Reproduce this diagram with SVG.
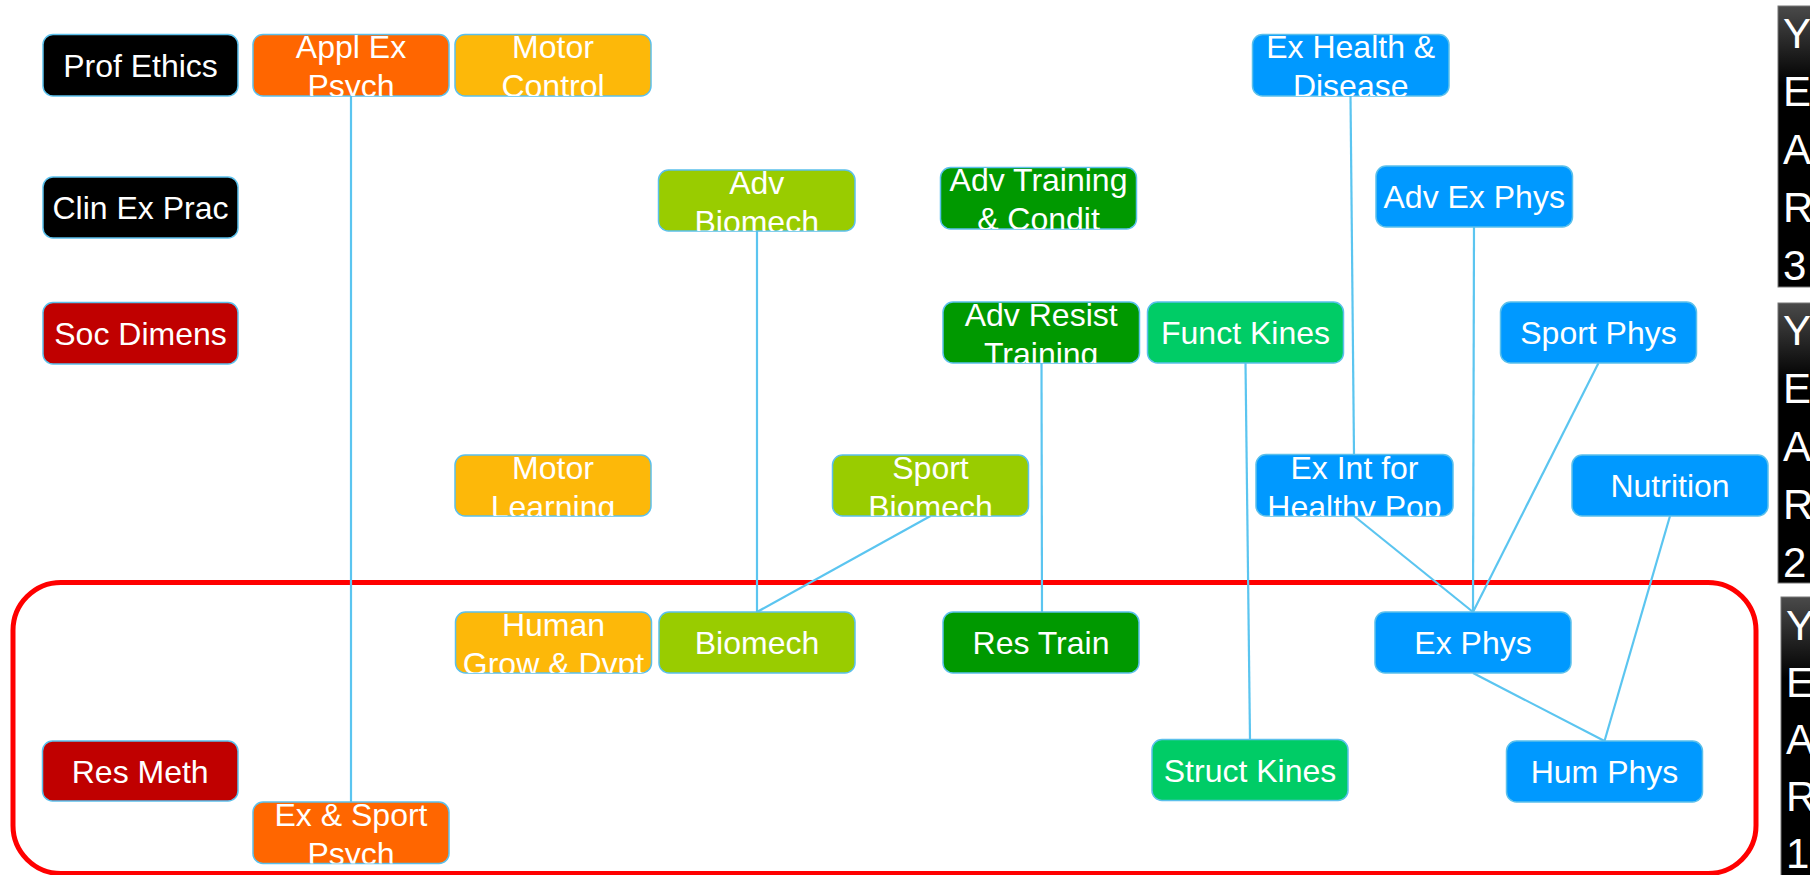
<svg xmlns="http://www.w3.org/2000/svg" width="1810" height="875" viewBox="0 0 1810 875">
<style>
.n{stroke:#5BC0EB;stroke-width:1.5}
.t{font-family:"Liberation Sans",Arial,sans-serif;font-size:32px;fill:#fff;text-anchor:middle}
.y{font-family:"Liberation Sans",Arial,sans-serif;font-size:42px;fill:#fff}
.c{stroke:#5BC5F0;stroke-width:2.2;fill:none}
.blk{fill:#000}.org{fill:#FF6600}.amb{fill:#FDB809}.lim{fill:#99CC00}.grn{fill:#009900}.brg{fill:#00CC66}.blu{fill:#0099FF}.red{fill:#C00000}
</style>
<defs>
<linearGradient id="yg" x1="0" y1="0" x2="0" y2="1">
<stop offset="0" stop-color="#4a4a4a"/>
<stop offset="0.28" stop-color="#000"/>
<stop offset="1" stop-color="#000"/>
</linearGradient>
<clipPath id="c1"><rect x="253" y="34.5" width="196" height="61.5" rx="10"/></clipPath>
<clipPath id="c2"><rect x="455" y="34.5" width="196" height="61.5" rx="10"/></clipPath>
<clipPath id="c3"><rect x="1252.5" y="34.5" width="196.5" height="61.5" rx="10"/></clipPath>
<clipPath id="c4"><rect x="658.5" y="170" width="196.5" height="61" rx="10"/></clipPath>
<clipPath id="c5"><rect x="940.5" y="167.5" width="196" height="61.5" rx="10"/></clipPath>
<clipPath id="c6"><rect x="943" y="302" width="196.5" height="61" rx="10"/></clipPath>
<clipPath id="c7"><rect x="455" y="455" width="196" height="61" rx="10"/></clipPath>
<clipPath id="c8"><rect x="832.5" y="455" width="196" height="61" rx="10"/></clipPath>
<clipPath id="c9"><rect x="1256" y="454.5" width="197" height="61.5" rx="10"/></clipPath>
<clipPath id="c10"><rect x="455.5" y="612" width="196" height="61" rx="10"/></clipPath>
<clipPath id="c11"><rect x="253" y="802" width="196" height="61.5" rx="10"/></clipPath>
</defs>
<rect width="1810" height="875" fill="#fff"/>

<g id="year-bars">
<g id="year3"><rect x="1778" y="6" width="40" height="281" fill="url(#yg)" stroke="#777" stroke-width="1"/>
<text class="y" x="1783" y="48">Y</text><text class="y" x="1783" y="106">E</text><text class="y" x="1783" y="164">A</text><text class="y" x="1783" y="222">R</text><text class="y" x="1783" y="280">3</text></g>
<g id="year2"><rect x="1778" y="303" width="40" height="280" fill="url(#yg)" stroke="#777" stroke-width="1"/>
<text class="y" x="1783" y="345">Y</text><text class="y" x="1783" y="403">E</text><text class="y" x="1783" y="461">A</text><text class="y" x="1783" y="519">R</text><text class="y" x="1783" y="577">2</text></g>
<g id="year1"><rect x="1781" y="597" width="40" height="290" fill="url(#yg)" stroke="#777" stroke-width="1"/>
<text class="y" x="1786" y="640">Y</text><text class="y" x="1786" y="697">E</text><text class="y" x="1786" y="754">A</text><text class="y" x="1786" y="811">R</text><text class="y" x="1786" y="868">1</text></g>
</g>

<g id="year1-outline"><rect x="13" y="582.5" width="1743" height="291" rx="48" fill="none" stroke="#FF0000" stroke-width="5"/></g>

<g id="connectors">
<line class="c" x1="351" y1="96" x2="351" y2="802"/>
<line class="c" x1="757" y1="231" x2="757" y2="612"/>
<line class="c" x1="930.5" y1="516" x2="757" y2="612"/>
<line class="c" x1="1041.5" y1="363" x2="1042" y2="612"/>
<line class="c" x1="1245.5" y1="363" x2="1250" y2="739.5"/>
<line class="c" x1="1350.5" y1="96" x2="1354" y2="454.5"/>
<line class="c" x1="1474" y1="227" x2="1473" y2="612"/>
<line class="c" x1="1598.5" y1="363" x2="1473" y2="612"/>
<line class="c" x1="1354" y1="516" x2="1473" y2="612"/>
<line class="c" x1="1473" y1="673" x2="1604.5" y2="741"/>
<line class="c" x1="1670" y1="516" x2="1604.5" y2="741"/>
</g>

<g id="prof-ethics"><rect class="n blk" x="43" y="34.5" width="195" height="61.5" rx="10"/><text class="t" x="140.5" y="76.5">Prof Ethics</text></g>
<g id="appl-ex-psych"><rect class="n org" x="253" y="34.5" width="196" height="61.5" rx="10"/><g clip-path="url(#c1)"><text class="t" x="351" y="58">Appl Ex</text><text class="t" x="351" y="96.5">Psych</text></g></g>
<g id="motor-control"><rect class="n amb" x="455" y="34.5" width="196" height="61.5" rx="10"/><g clip-path="url(#c2)"><text class="t" x="553" y="58">Motor</text><text class="t" x="553" y="96.5">Control</text></g></g>
<g id="ex-health-disease"><rect class="n blu" x="1252.5" y="34.5" width="196.5" height="61.5" rx="10"/><g clip-path="url(#c3)"><text class="t" x="1350.7" y="58">Ex Health &amp;</text><text class="t" x="1350.7" y="96.5">Disease</text></g></g>

<g id="clin-ex-prac"><rect class="n blk" x="43" y="177" width="195" height="61" rx="10"/><text class="t" x="140.5" y="219">Clin Ex Prac</text></g>
<g id="adv-biomech"><rect class="n lim" x="658.5" y="170" width="196.5" height="61" rx="10"/><g clip-path="url(#c4)"><text class="t" x="756.7" y="194">Adv</text><text class="t" x="756.7" y="232.5">Biomech</text></g></g>
<g id="adv-training-condit"><rect class="n grn" x="940.5" y="167.5" width="196" height="61.5" rx="10"/><g clip-path="url(#c5)"><text class="t" x="1038.5" y="191">Adv Training</text><text class="t" x="1038.5" y="229.5">&amp; Condit</text></g></g>
<g id="adv-ex-phys"><rect class="n blu" x="1376" y="166" width="196.5" height="61" rx="10"/><text class="t" x="1474.2" y="208">Adv Ex Phys</text></g>

<g id="soc-dimens"><rect class="n red" x="43" y="302.5" width="195" height="61.5" rx="10"/><text class="t" x="140.5" y="344.5">Soc Dimens</text></g>
<g id="adv-resist-training"><rect class="n grn" x="943" y="302" width="196.5" height="61" rx="10"/><g clip-path="url(#c6)"><text class="t" x="1041.2" y="326">Adv Resist</text><text class="t" x="1041.2" y="364.5">Training</text></g></g>
<g id="funct-kines"><rect class="n brg" x="1147.5" y="302" width="196" height="61" rx="10"/><text class="t" x="1245.5" y="344">Funct Kines</text></g>
<g id="sport-phys"><rect class="n blu" x="1500.5" y="302" width="196" height="61" rx="10"/><text class="t" x="1598.5" y="344">Sport Phys</text></g>

<g id="motor-learning"><rect class="n amb" x="455" y="455" width="196" height="61" rx="10"/><g clip-path="url(#c7)"><text class="t" x="553" y="479">Motor</text><text class="t" x="553" y="517.5">Learning</text></g></g>
<g id="sport-biomech"><rect class="n lim" x="832.5" y="455" width="196" height="61" rx="10"/><g clip-path="url(#c8)"><text class="t" x="930.5" y="479">Sport</text><text class="t" x="930.5" y="517.5">Biomech</text></g></g>
<g id="ex-int-healthy-pop"><rect class="n blu" x="1256" y="454.5" width="197" height="61.5" rx="10"/><g clip-path="url(#c9)"><text class="t" x="1354.5" y="479">Ex Int for</text><text class="t" x="1354.5" y="517.5">Healthy Pop</text></g></g>
<g id="nutrition"><rect class="n blu" x="1572" y="455" width="196" height="61" rx="10"/><text class="t" x="1670" y="497">Nutrition</text></g>

<g id="human-grow-dvpt"><rect class="n amb" x="455.5" y="612" width="196" height="61" rx="10"/><g clip-path="url(#c10)"><text class="t" x="553.5" y="636">Human</text><text class="t" x="553.5" y="674.5">Grow &amp; Dvpt</text></g></g>
<g id="biomech"><rect class="n lim" x="659" y="612" width="196" height="61" rx="10"/><text class="t" x="757" y="654">Biomech</text></g>
<g id="res-train"><rect class="n grn" x="943" y="612" width="196" height="61" rx="10"/><text class="t" x="1041" y="654">Res Train</text></g>
<g id="ex-phys"><rect class="n blu" x="1375" y="612" width="196" height="61" rx="10"/><text class="t" x="1473" y="654">Ex Phys</text></g>

<g id="res-meth"><rect class="n red" x="42.5" y="741" width="195.5" height="60" rx="10"/><text class="t" x="140.2" y="782.5">Res Meth</text></g>
<g id="struct-kines"><rect class="n brg" x="1152" y="739.5" width="196" height="61" rx="10"/><text class="t" x="1250" y="781.5">Struct Kines</text></g>
<g id="hum-phys"><rect class="n blu" x="1506.5" y="741" width="196" height="61" rx="10"/><text class="t" x="1604.5" y="783">Hum Phys</text></g>
<g id="ex-sport-psych"><rect class="n org" x="253" y="802" width="196" height="61.5" rx="10"/><g clip-path="url(#c11)"><text class="t" x="351" y="826">Ex &amp; Sport</text><text class="t" x="351" y="864.5">Psych</text></g></g>
</svg>
